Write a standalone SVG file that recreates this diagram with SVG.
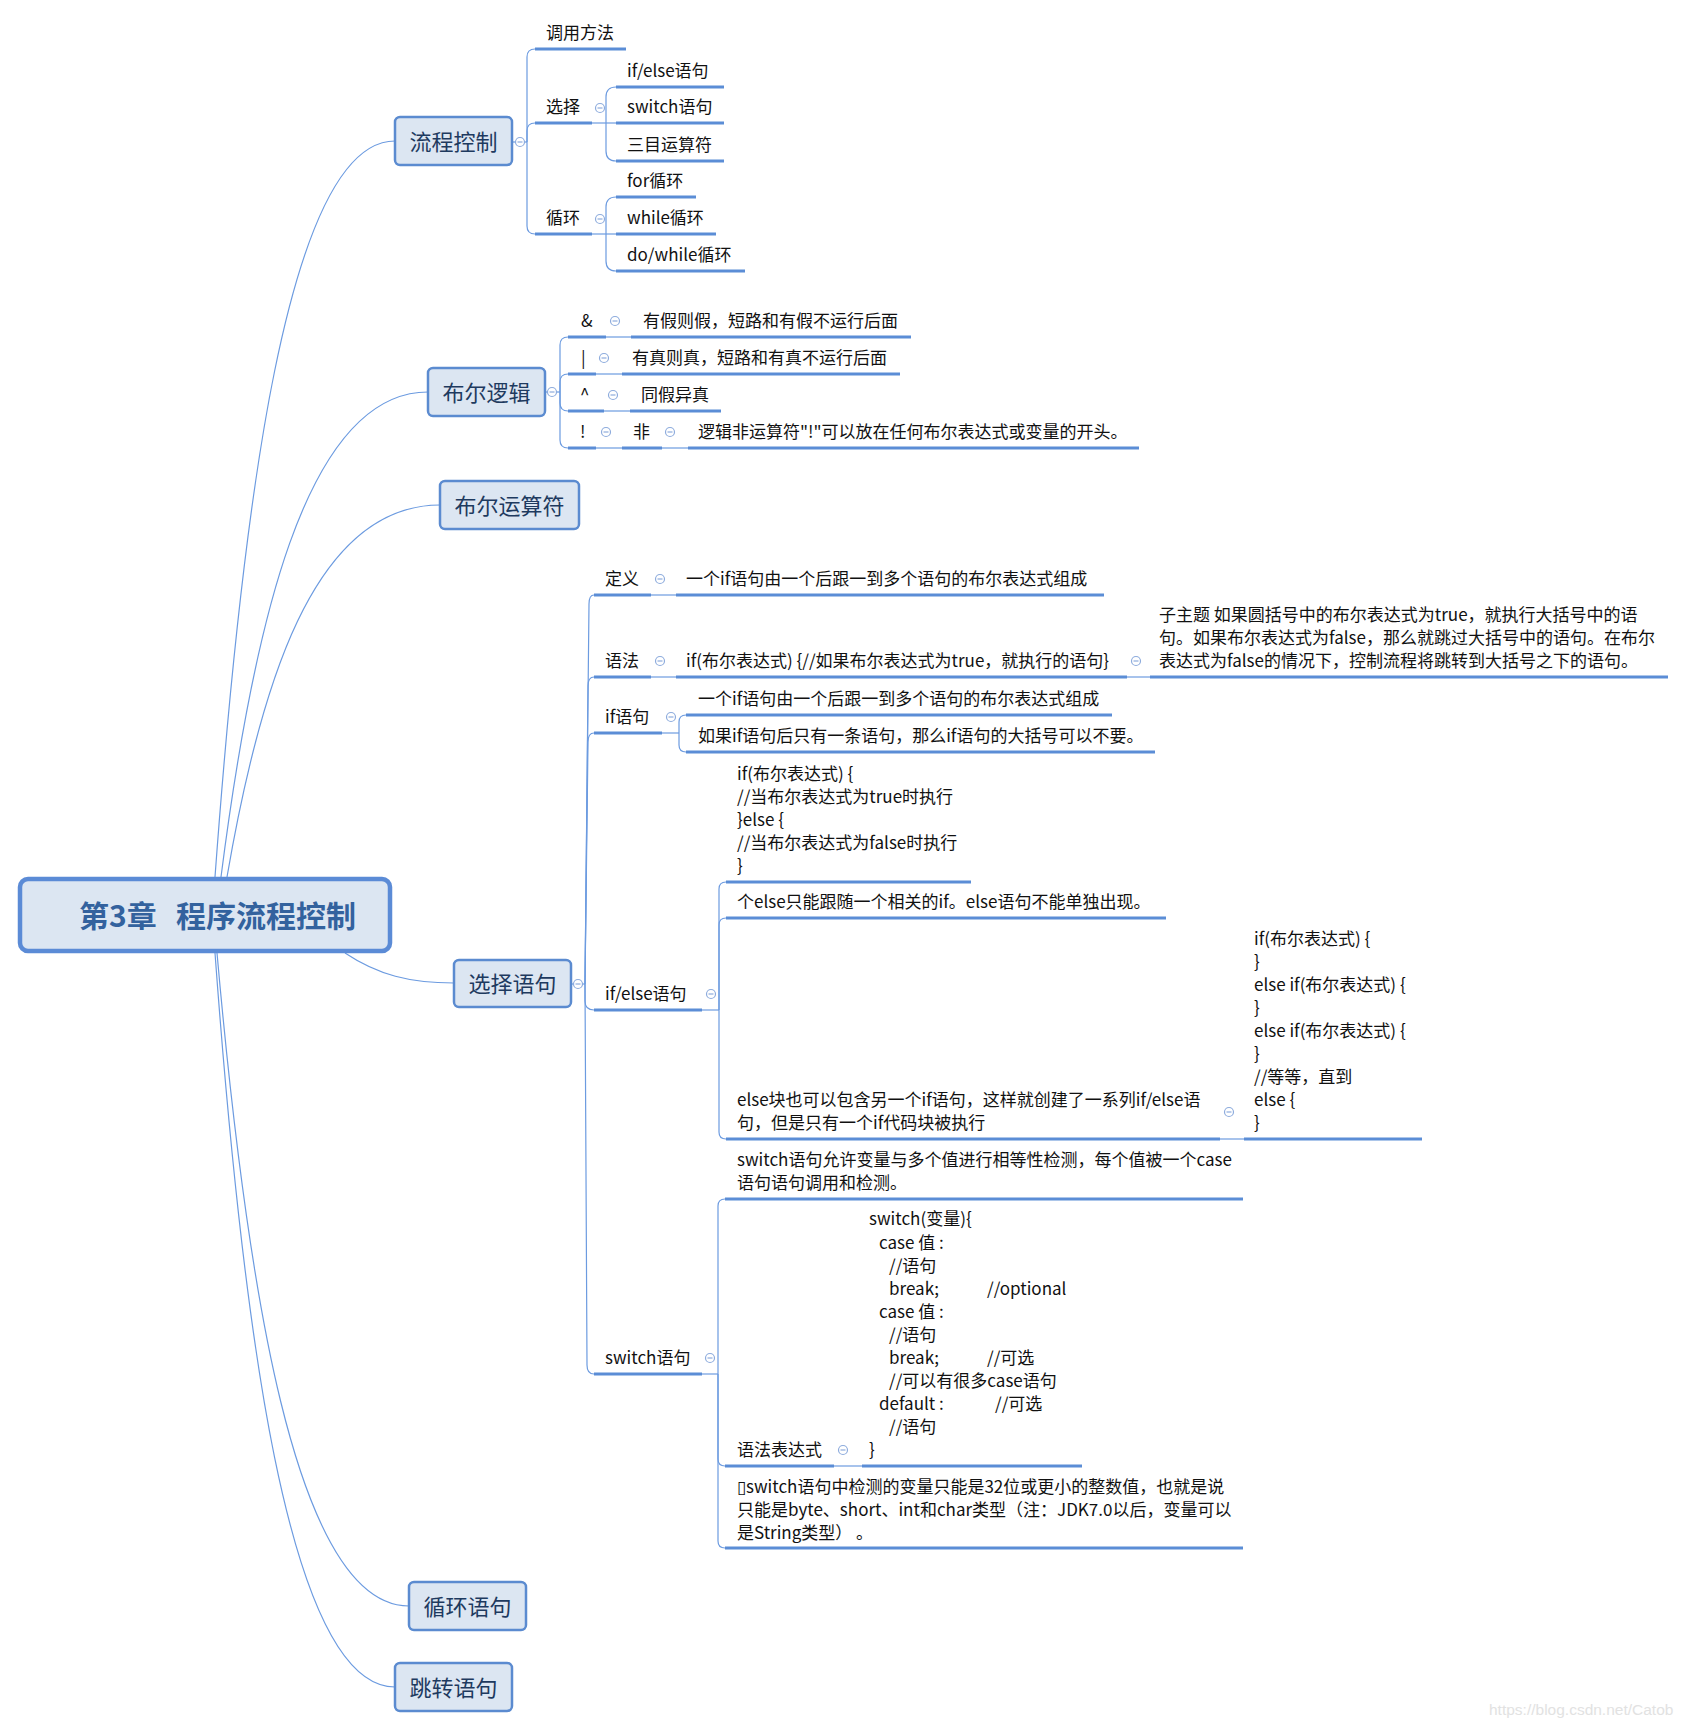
<svg xmlns="http://www.w3.org/2000/svg" xmlns:xlink="http://www.w3.org/1999/xlink" width="1686" height="1728" viewBox="0 0 1686 1728">
<style>
.t{font-family:"Noto Sans CJK SC","Noto Sans",sans-serif;font-size:17px;fill:#111;white-space:pre}
.mt{font-family:"Noto Sans CJK SC","Noto Sans",sans-serif;font-size:22px;fill:#1E3A5F;text-anchor:middle}
.rt{font-family:"Noto Sans CJK SC","Noto Sans",sans-serif;font-size:30px;font-weight:bold;fill:#33629E;white-space:pre}
.box{fill:#DCE6F2;stroke:#5B8BD0;stroke-width:2.5}
.root{fill:#DCE6F2;stroke:#5B8BD6;stroke-width:4.5}
.ul{stroke:#5B8DD6;stroke-width:3;fill:none}
.cn{stroke:#6C9BE0;stroke-width:1.2;fill:none}
.wm{font-family:"Liberation Sans",Arial,sans-serif;font-size:15.5px;fill:#E2E2E2}
</style>
<defs>
<g id="col"><circle r="4.5" fill="#fff" stroke="#8EACDD" stroke-width="1.2"/><line x1="-2.5" y1="0" x2="2.5" y2="0" stroke="#8EACDD" stroke-width="1.2"/></g>
</defs>
<rect width="1686" height="1728" fill="#fff"/>

<g id="connectors">
<path class="cn" d="M215,877 C242,509 287,141 395,141"/>
<path class="cn" d="M221,877 C252,634 304,392 428,392"/>
<path class="cn" d="M227,877 C259,691 312,505 440,505"/>
<path class="cn" d="M345,953 C378,975 410,983 454,983"/>
<path class="cn" d="M217,953 C246,1279 294,1606 409,1606"/>
<path class="cn" d="M215,953 C242,1320 287,1687 395,1687"/>
<path class="cn" d="M512,142 H527"/>
<path class="cn" d="M527,142 V57 Q527,49 535,49"/>
<path class="cn" d="M527,142 V131 Q527,123 535,123"/>
<path class="cn" d="M527,142 V226 Q527,234 535,234"/>
<path class="cn" d="M592,123 H616"/>
<path class="cn" d="M606,123 V97 Q606,87 616,87"/>
<path class="cn" d="M606,123 V151 Q606,161 616,161"/>
<path class="cn" d="M592,234 H616"/>
<path class="cn" d="M606,234 V207 Q606,197 616,197"/>
<path class="cn" d="M606,234 V261 Q606,271 616,271"/>
<path class="cn" d="M545,392 H560"/>
<path class="cn" d="M560,392 V345 Q560,337 568,337"/>
<path class="cn" d="M560,392 V382 Q560,374 568,374"/>
<path class="cn" d="M560,392 V403 Q560,411 568,411"/>
<path class="cn" d="M560,392 V440 Q560,448 568,448"/>
<path class="cn" d="M606,337 H631"/>
<path class="cn" d="M596,374 H622"/>
<path class="cn" d="M604,411 H630"/>
<path class="cn" d="M596,448 H622"/>
<path class="cn" d="M662,448 H688"/>
<path class="cn" d="M571,984 H585"/>
<path class="cn" d="M585,984 C587,800 589,620 589,604 Q589,595 594,595"/>
<path class="cn" d="M585,984 C587,800 588,700 588,686 Q588,677 594,677"/>
<path class="cn" d="M585,984 C587,800 588,750 588,742 Q588,733 594,733"/>
<path class="cn" d="M585,984 V1001 Q585,1010 594,1010"/>
<path class="cn" d="M585,984 C585,1200 587,1350 587,1365 Q587,1374 594,1374"/>
<path class="cn" d="M651,595 H676"/>
<path class="cn" d="M651,677 H676"/>
<path class="cn" d="M1127,677 H1150"/>
<path class="cn" d="M662,733 H679"/>
<path class="cn" d="M679,733 V722 Q679,715 686,715"/>
<path class="cn" d="M679,733 V745 Q679,752 686,752"/>
<path class="cn" d="M702,1010 H719"/>
<path class="cn" d="M719,1010 V889 Q719,882 726,882"/>
<path class="cn" d="M719,1010 V925 Q719,918 726,918"/>
<path class="cn" d="M719,1010 V1132 Q719,1139 726,1139"/>
<path class="cn" d="M1220,1139 H1244"/>
<path class="cn" d="M702,1374 H718"/>
<path class="cn" d="M718,1374 V1206 Q718,1199 725,1199"/>
<path class="cn" d="M718,1374 V1459 Q718,1466 725,1466"/>
<path class="cn" d="M718,1374 V1541 Q718,1548 725,1548"/>
<path class="cn" d="M834,1466 H862"/>
</g>

<g id="root">
<rect class="root" x="20" y="879" width="370" height="72" rx="8"/>
<text class="rt" y="927"><tspan x="79">第3章</tspan><tspan x="176">程序流程控制</tspan></text>
</g>

<g id="n-liucheng">
<rect class="box" x="395" y="117" width="117" height="48" rx="5"/>
<text class="mt" x="453.5" y="149.5">流程控制</text>
<use href="#col" x="520" y="142"/>
</g>
<g id="n-diaoyong"><text class="t" x="546" y="39">调用方法</text><path class="ul" d="M535,49 H626"/></g>
<g id="n-xuanze"><text class="t" x="546" y="113">选择</text><path class="ul" d="M535,123 H592"/><use href="#col" x="600" y="108"/></g>
<g id="n-ifelse1"><text class="t" x="627" y="77">if/else语句</text><path class="ul" d="M616,87 H724"/></g>
<g id="n-switch1"><text class="t" x="627" y="113">switch语句</text><path class="ul" d="M616,123 H724"/></g>
<g id="n-sanmu"><text class="t" x="627" y="151">三目运算符</text><path class="ul" d="M616,161 H724"/></g>
<g id="n-xunhuan"><text class="t" x="546" y="224">循环</text><path class="ul" d="M535,234 H592"/><use href="#col" x="600" y="219"/></g>
<g id="n-for"><text class="t" x="627" y="187">for循环</text><path class="ul" d="M616,197 H696"/></g>
<g id="n-while"><text class="t" x="627" y="224">while循环</text><path class="ul" d="M616,234 H716"/></g>
<g id="n-dowhile"><text class="t" x="627" y="261">do/while循环</text><path class="ul" d="M616,271 H745"/></g>

<g id="n-buerluoji">
<rect class="box" x="428" y="368" width="117" height="48" rx="5"/>
<text class="mt" x="486.5" y="400.5">布尔逻辑</text>
<use href="#col" x="552" y="392"/>
</g>
<g id="n-and"><text class="t" x="581" y="327">&amp;</text><path class="ul" d="M568,337 H606"/><use href="#col" x="615" y="321"/></g>
<g id="n-and-d"><text class="t" x="643" y="327">有假则假，短路和有假不运行后面</text><path class="ul" d="M631,337 H911"/></g>
<g id="n-or"><text class="t" x="581" y="364">|</text><path class="ul" d="M568,374 H596"/><use href="#col" x="604" y="358"/></g>
<g id="n-or-d"><text class="t" x="632" y="364">有真则真，短路和有真不运行后面</text><path class="ul" d="M622,374 H900"/></g>
<g id="n-xor"><text class="t" x="580" y="401">^</text><path class="ul" d="M568,411 H604"/><use href="#col" x="613" y="395"/></g>
<g id="n-xor-d"><text class="t" x="641" y="401">同假异真</text><path class="ul" d="M630,411 H721"/></g>
<g id="n-not"><text class="t" x="580" y="438">!</text><path class="ul" d="M568,448 H596"/><use href="#col" x="606" y="432"/></g>
<g id="n-fei"><text class="t" x="633" y="438">非</text><path class="ul" d="M622,448 H662"/><use href="#col" x="670" y="432"/></g>
<g id="n-not-d"><text class="t" x="698" y="438">逻辑非运算符"!"可以放在任何布尔表达式或变量的开头。</text><path class="ul" d="M688,448 H1139"/></g>

<g id="n-buerysf">
<rect class="box" x="440" y="481" width="139" height="48" rx="5"/>
<text class="mt" x="509.5" y="513.5">布尔运算符</text>
</g>

<g id="n-xuanzeyuju">
<rect class="box" x="454" y="960" width="117" height="47" rx="5"/>
<text class="mt" x="512.5" y="992">选择语句</text>
<use href="#col" x="578" y="984"/>
</g>
<g id="n-dingyi"><text class="t" x="605" y="585">定义</text><path class="ul" d="M594,595 H651"/><use href="#col" x="660" y="579"/></g>
<g id="n-dingyi-d"><text class="t" x="686" y="585">一个if语句由一个后跟一到多个语句的布尔表达式组成</text><path class="ul" d="M676,595 H1104"/></g>
<g id="n-yufa"><text class="t" x="605" y="667">语法</text><path class="ul" d="M594,677 H651"/><use href="#col" x="660" y="661"/></g>
<g id="n-yufa-d"><text class="t" x="686" y="667">if(布尔表达式) {//如果布尔表达式为true，就执行的语句}</text><path class="ul" d="M676,677 H1127"/><use href="#col" x="1136" y="661"/></g>
<g id="n-yufa-sub">
<text class="t" x="1159" y="621">子主题 如果圆括号中的布尔表达式为true，就执行大括号中的语</text>
<text class="t" x="1159" y="644">句。如果布尔表达式为false，那么就跳过大括号中的语句。在布尔</text>
<text class="t" x="1159" y="667">表达式为false的情况下，控制流程将跳转到大括号之下的语句。</text>
<path class="ul" d="M1150,677 H1668"/>
</g>
<g id="n-ifyuju"><text class="t" x="605" y="723">if语句</text><path class="ul" d="M594,733 H662"/><use href="#col" x="671" y="717"/></g>
<g id="n-if-c1"><text class="t" x="698" y="705">一个if语句由一个后跟一到多个语句的布尔表达式组成</text><path class="ul" d="M686,715 H1112"/></g>
<g id="n-if-c2"><text class="t" x="698" y="742">如果if语句后只有一条语句，那么if语句的大括号可以不要。</text><path class="ul" d="M686,752 H1155"/></g>
<g id="n-ifelse"><text class="t" x="605" y="1000">if/else语句</text><path class="ul" d="M594,1010 H702"/><use href="#col" x="711" y="994"/></g>
<g id="n-ifelse-c1">
<text class="t" x="737" y="779.6">if(布尔表达式) {</text>
<text class="t" x="737" y="802.7">//当布尔表达式为true时执行</text>
<text class="t" x="737" y="825.8">}else {</text>
<text class="t" x="737" y="848.9">//当布尔表达式为false时执行</text>
<text class="t" x="737" y="872">}</text>
<path class="ul" d="M726,882 H971"/>
</g>
<g id="n-ifelse-c2"><text class="t" x="737" y="908">个else只能跟随一个相关的if。else语句不能单独出现。</text><path class="ul" d="M726,918 H1166"/></g>
<g id="n-ifelse-c3">
<text class="t" x="737" y="1106">else块也可以包含另一个if语句，这样就创建了一系列if/else语</text>
<text class="t" x="737" y="1129">句，但是只有一个if代码块被执行</text>
<path class="ul" d="M726,1139 H1220"/>
<use href="#col" x="1229" y="1112"/>
</g>
<g id="n-ifelse-c3-code">
<text class="t" x="1254" y="945">if(布尔表达式) {</text>
<text class="t" x="1254" y="968">}</text>
<text class="t" x="1254" y="991">else if(布尔表达式) {</text>
<text class="t" x="1254" y="1014">}</text>
<text class="t" x="1254" y="1037">else if(布尔表达式) {</text>
<text class="t" x="1254" y="1060">}</text>
<text class="t" x="1254" y="1083">//等等，直到</text>
<text class="t" x="1254" y="1106">else {</text>
<text class="t" x="1254" y="1129">}</text>
<path class="ul" d="M1244,1139 H1422"/>
</g>
<g id="n-switch"><text class="t" x="605" y="1364">switch语句</text><path class="ul" d="M594,1374 H702"/><use href="#col" x="710" y="1358"/></g>
<g id="n-switch-c1">
<text class="t" x="737" y="1166">switch语句允许变量与多个值进行相等性检测，每个值被一个case</text>
<text class="t" x="737" y="1189">语句语句调用和检测。</text>
<path class="ul" d="M725,1199 H1243"/>
</g>
<g id="n-switch-c2"><text class="t" x="737" y="1456">语法表达式</text><path class="ul" d="M725,1466 H834"/><use href="#col" x="843" y="1450"/></g>
<g id="n-switch-code">
<text class="t" x="869" y="1225.4">switch(变量){</text>
<text class="t" x="879" y="1248.5">case 值 :</text>
<text class="t" x="889" y="1271.5">//语句</text>
<text class="t" x="889" y="1294.6">break;</text><text class="t" x="987" y="1294.6">//optional</text>
<text class="t" x="879" y="1317.6">case 值 :</text>
<text class="t" x="889" y="1340.7">//语句</text>
<text class="t" x="889" y="1363.8">break;</text><text class="t" x="987" y="1363.8">//可选</text>
<text class="t" x="889" y="1386.8">//可以有很多case语句</text>
<text class="t" x="879" y="1409.9">default :</text><text class="t" x="995" y="1409.9">//可选</text>
<text class="t" x="889" y="1432.9">//语句</text>
<text class="t" x="869" y="1456">}</text>
<path class="ul" d="M862,1466 H1082"/>
</g>
<g id="n-switch-c3">
<text class="t" x="737" y="1493">▯switch语句中检测的变量只能是32位或更小的整数值，也就是说</text>
<text class="t" x="737" y="1516">只能是byte、short、int和char类型（注：JDK7.0以后，变量可以</text>
<text class="t" x="737" y="1539">是String类型） 。</text>
<path class="ul" d="M725,1548 H1243"/>
</g>

<g id="n-xunhuanyuju">
<rect class="box" x="409" y="1582" width="117" height="48" rx="5"/>
<text class="mt" x="467.5" y="1614.5">循环语句</text>
</g>
<g id="n-tiaozhuan">
<rect class="box" x="395" y="1663" width="117" height="48" rx="5"/>
<text class="mt" x="453.5" y="1695.5">跳转语句</text>
</g>

<text class="wm" x="1489" y="1715">https://blog.csdn.net/Catob</text>
</svg>
